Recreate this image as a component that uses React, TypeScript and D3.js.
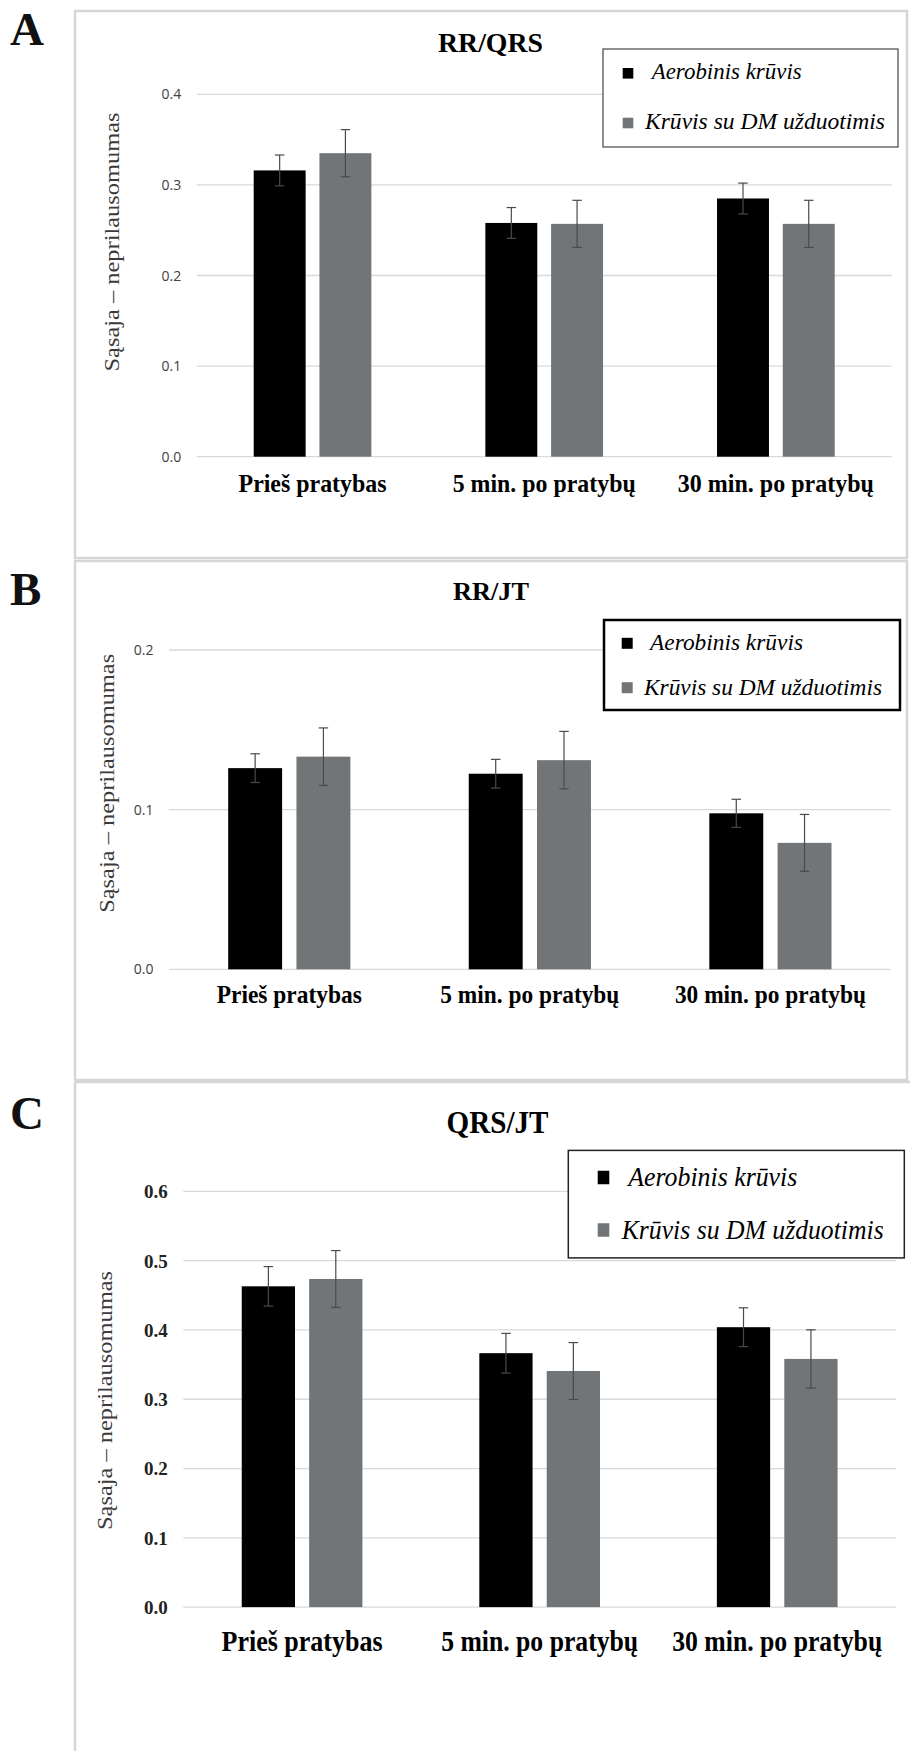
import React from "react";
import * as d3 from "d3";

// ---------- DATA ----------
const categories = ["Prieš pratybas", "5 min. po pratybų", "30 min. po pratybų"];
const seriesNames = ["Aerobinis krūvis", "Krūvis su DM užduotimis"];
const seriesColors = ["#000000", "#727578"];

// Panel A: RR/QRS
const rrQrsAerobic = [0.316, 0.258, 0.285];
const rrQrsAerobicErr = [0.017, 0.017, 0.017];
const rrQrsDM = [0.335, 0.257, 0.257];
const rrQrsDMErr = [0.026, 0.026, 0.026];
const rrQrsTicks = [0, 0.1, 0.2, 0.3, 0.4];

// Panel B: RR/JT
const rrJtAerobic = [0.126, 0.1225, 0.0977];
const rrJtAerobicErr = [0.009, 0.009, 0.0088];
const rrJtDM = [0.1332, 0.131, 0.0792];
const rrJtDMErr = [0.018, 0.018, 0.0178];
const rrJtTicks = [0, 0.1, 0.2];

// Panel C: QRS/JT
const qrsJtAerobic = [0.463, 0.3665, 0.404];
const qrsJtAerobicErr = [0.0285, 0.0286, 0.028];
const qrsJtDM = [0.4736, 0.3408, 0.3582];
const qrsJtDMErr = [0.041, 0.041, 0.042];
const qrsJtTicks = [0, 0.1, 0.2, 0.3, 0.4, 0.5, 0.6];

const SERIF = '"Liberation Serif", "Times New Roman", serif';
const SANS = '"Open Sans", "Liberation Sans", sans-serif';

type PanelCfg = {
  letter: string;
  letterY: number;
  title: string;
  titleX: number;
  titleY: number;
  titleSize: number;
  titleLen: number;
  border: { x: number; y: number; w: number; h: number; openRightBottom?: boolean };
  gridX: [number, number];
  y0: number;
  yTop: number;
  yMax: number;
  ticks: number[];
  tickBold: boolean;
  tickSize: number;
  yTitleX: number;
  yTitleY: number;
  yTitleSize: number;
  values: number[][];
  errs: number[][];
  legend: { x: number; y: number; w: number; h: number; stroke: number; color: string };
  markerX: number;
  markerW: number;
  markerH: number;
  markerY: [number, number];
  legTextX: [number, number];
  legTextY: [number, number];
  legTextLen: [number, number];
  legSize: number;
  xLabelY: number;
  xLabelSize: number;
  xLabelLen: number[];
};

const panels: PanelCfg[] = [
  {
    letter: "A",
    letterY: 45,
    title: "RR/QRS",
    titleX: 490.5,
    titleY: 52,
    titleSize: 27,
    titleLen: 105,
    border: { x: 75, y: 11, w: 832, h: 547 },
    gridX: [196.7, 891.7],
    y0: 456.7,
    yTop: 94.3,
    yMax: 0.4,
    ticks: rrQrsTicks,
    tickBold: false,
    tickSize: 14,
    yTitleX: 111.7,
    yTitleY: 242,
    yTitleSize: 22,
    values: [rrQrsAerobic, rrQrsDM],
    errs: [rrQrsAerobicErr, rrQrsDMErr],
    legend: { x: 603, y: 49, w: 295, h: 98, stroke: 1.2, color: "#444" },
    markerX: 622.7,
    markerW: 10.6,
    markerH: 10.6,
    markerY: [73.3, 123],
    legTextX: [651.7, 645],
    legTextY: [79.3, 129.3],
    legTextLen: [150, 240],
    legSize: 23,
    xLabelY: 492,
    xLabelSize: 25,
    xLabelLen: [148, 183, 196],
  },
  {
    letter: "B",
    letterY: 605,
    title: "RR/JT",
    titleX: 491,
    titleY: 600,
    titleSize: 26,
    titleLen: 76,
    border: { x: 75, y: 561, w: 832, h: 519 },
    gridX: [169, 890.7],
    y0: 969.3,
    yTop: 650,
    yMax: 0.2,
    ticks: rrJtTicks,
    tickBold: false,
    tickSize: 14,
    yTitleX: 106.7,
    yTitleY: 783.3,
    yTitleSize: 22,
    values: [rrJtAerobic, rrJtDM],
    errs: [rrJtAerobicErr, rrJtDMErr],
    legend: { x: 604, y: 620, w: 296, h: 90, stroke: 2.5, color: "#000" },
    markerX: 621.7,
    markerW: 11,
    markerH: 11,
    markerY: [643.3, 687.7],
    legTextX: [650, 644],
    legTextY: [650, 695],
    legTextLen: [153, 238],
    legSize: 23,
    xLabelY: 1003.4,
    xLabelSize: 25,
    xLabelLen: [145, 179, 191],
  },
  {
    letter: "C",
    letterY: 1129,
    title: "QRS/JT",
    titleX: 497.5,
    titleY: 1133,
    titleSize: 32,
    titleLen: 102,
    border: { x: 75, y: 1082, w: 850, h: 700, openRightBottom: true },
    gridX: [183.3, 896],
    y0: 1607.1,
    yTop: 1191.4,
    yMax: 0.6,
    ticks: qrsJtTicks,
    tickBold: true,
    tickSize: 19,
    yTitleX: 105,
    yTitleY: 1400.5,
    yTitleSize: 22,
    values: [qrsJtAerobic, qrsJtDM],
    errs: [qrsJtAerobicErr, qrsJtDMErr],
    legend: { x: 568.3, y: 1150.4, w: 336, h: 107.5, stroke: 1.5, color: "#222" },
    markerX: 597.7,
    markerW: 11.6,
    markerH: 13.5,
    markerY: [1177.5, 1230],
    legTextX: [628.3, 621.7],
    legTextY: [1186, 1239],
    legTextLen: [169, 262],
    legSize: 28,
    xLabelY: 1651,
    xLabelSize: 29,
    xLabelLen: [161, 197, 210],
  },
];

function Panel({ p }: { p: PanelCfg }) {
  const y = d3.scaleLinear().domain([0, p.yMax]).range([p.y0, p.yTop]);
  const x0 = d3.scaleBand<string>().domain(categories).range(p.gridX).padding(0);
  const groupW = x0.bandwidth() * 0.508;
  const x1 = d3
    .scaleBand<string>()
    .domain(seriesNames)
    .range([-groupW / 2, groupW / 2])
    .paddingInner(0.21)
    .paddingOuter(0);
  const capW = 9.5;
  const b = p.border;
  return (
    <g>
      {b.openRightBottom ? (
        <g stroke="#d6d6d6" strokeWidth={2.5}>
          <line x1={b.x} x2={910} y1={b.y} y2={b.y} />
          <line x1={b.x} x2={b.x} y1={b.y} y2={1751} />
        </g>
      ) : (
        <rect x={b.x} y={b.y} width={b.w} height={b.h} fill="none" stroke="#d6d6d6" strokeWidth={2.5} />
      )}
      <text x={10} y={p.letterY} fontFamily={SERIF} fontWeight="bold" fontSize={47} fill="#111">
        {p.letter}
      </text>
      <text
        x={p.titleX}
        y={p.titleY}
        textAnchor="middle"
        fontFamily={SERIF}
        fontWeight="bold"
        fontSize={p.titleSize}
        textLength={p.titleLen}
        lengthAdjust="spacingAndGlyphs"
        fill="#000"
      >
        {p.title}
      </text>
      {p.ticks.map((t) => (
        <line key={"g" + t} x1={p.gridX[0]} x2={p.gridX[1]} y1={y(t)} y2={y(t)} stroke="#d9d9d9" strokeWidth={1.3} />
      ))}
      {p.ticks.map((t) => (
        <text
          key={"t" + t}
          x={p.gridX[0] - 15.5}
          y={y(t)}
          dy="0.36em"
          textAnchor="end"
          fontFamily={p.tickBold ? SERIF : SANS}
          fontWeight={p.tickBold ? "bold" : "normal"}
          fontSize={p.tickSize}
          fill={p.tickBold ? "#222" : "#404040"}
        >
          {d3.format(".1f")(t)}
        </text>
      ))}
      <text
        transform={`translate(${p.yTitleX},${p.yTitleY}) rotate(-90)`}
        dy="0.33em"
        textAnchor="middle"
        fontFamily={SERIF}
        fontSize={p.yTitleSize}
        textLength={259}
        lengthAdjust="spacingAndGlyphs"
        fill="#3a3a3a"
      >
        Sąsaja – neprilausomumas
      </text>
      {categories.map((c, ci) => {
        const cx = (x0(c) as number) + x0.bandwidth() / 2;
        return (
          <g key={c}>
            {seriesNames.map((s, si) => {
              const v = p.values[si][ci];
              const e = p.errs[si][ci];
              const bx = cx + (x1(s) as number);
              const bw = x1.bandwidth();
              const mx = bx + bw / 2;
              return (
                <g key={s}>
                  <rect x={bx} y={y(v)} width={bw} height={y(0) - y(v)} fill={seriesColors[si]} />
                  <g stroke="#4a4a4a" strokeWidth={1.2}>
                    <line x1={mx} x2={mx} y1={y(v + e)} y2={y(v - e)} />
                    <line x1={mx - capW / 2} x2={mx + capW / 2} y1={y(v + e)} y2={y(v + e)} />
                    <line x1={mx - capW / 2} x2={mx + capW / 2} y1={y(v - e)} y2={y(v - e)} />
                  </g>
                </g>
              );
            })}
          </g>
        );
      })}
      {categories.map((c, ci) => (
        <text
          key={"xl" + c}
          x={(x0(c) as number) + x0.bandwidth() / 2}
          y={p.xLabelY}
          textAnchor="middle"
          fontFamily={SERIF}
          fontWeight="bold"
          fontSize={p.xLabelSize}
          textLength={p.xLabelLen[ci]}
          lengthAdjust="spacingAndGlyphs"
          fill="#000"
        >
          {c}
        </text>
      ))}
      <rect
        x={p.legend.x}
        y={p.legend.y}
        width={p.legend.w}
        height={p.legend.h}
        fill="#fff"
        stroke={p.legend.color}
        strokeWidth={p.legend.stroke}
      />
      {seriesNames.map((s, si) => (
        <g key={"lg" + s}>
          <rect
            x={p.markerX}
            y={p.markerY[si] - p.markerH / 2}
            width={p.markerW}
            height={p.markerH}
            fill={seriesColors[si]}
          />
          <text
            x={p.legTextX[si]}
            y={p.legTextY[si]}
            fontFamily={SERIF}
            fontStyle="italic"
            fontSize={p.legSize}
            textLength={p.legTextLen[si]}
            lengthAdjust="spacingAndGlyphs"
            fill="#000"
          >
            {s}
          </text>
        </g>
      ))}
    </g>
  );
}

export default function App() {
  return (
    <svg
      width={910}
      height={1751}
      viewBox="0 0 910 1751"
      style={{ position: "absolute", left: 0, top: 0, background: "#fff" }}
    >
      <rect x={0} y={0} width={910} height={1751} fill="#fff" />
      {panels.map((p) => (
        <Panel key={p.letter} p={p} />
      ))}
    </svg>
  );
}
